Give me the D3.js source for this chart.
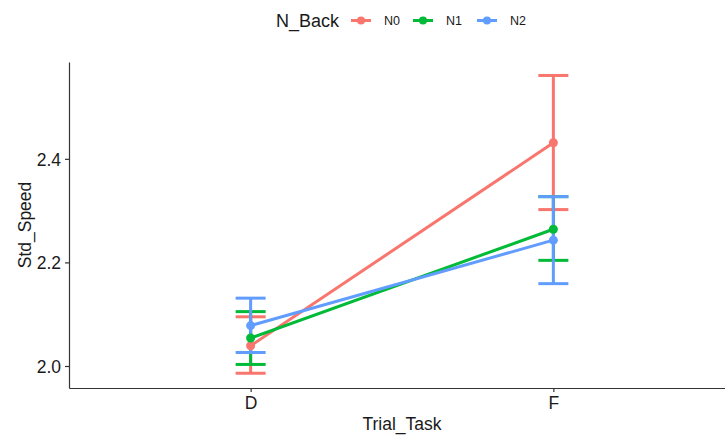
<!DOCTYPE html>
<meta charset="utf-8">
<body style="margin:0;background:#fff">
<div id="chart"></div>
<script src="https://d3js.org/d3.v7.min.js"></script>
<script>
var tasks = ["D", "F"];
var groups = ["N0", "N1", "N2"];
var colors = ["#F8766D", "#00BA38", "#619CFF"];
// mean, lower, upper per group, by task
var means = {N0: [2.039, 2.431], N1: [2.054, 2.264], N2: [2.078, 2.243]};
var lows = {N0: [1.986, 2.302], N1: [2.003, 2.204], N2: [2.026, 2.159]};
var highs = {N0: [2.095, 2.561], N1: [2.105, 2.327], N2: [2.131, 2.327]};
var yTicks = [2.0, 2.2, 2.4];

var width = 725, height = 437;
var mLeft = 69, mRight = 735, mTop = 62, mBottom = 388;
var font = "Liberation Sans, Arial, sans-serif";

var svg = d3.select("#chart").append("svg")
  .attr("width", width).attr("height", height)
  .style("font-family", font);

var x = d3.scalePoint().domain(tasks).range([mLeft, mRight]).padding(0.6);
var y = d3.scaleLinear().domain([1.9575, 2.587]).range([mBottom, mTop]);
var color = d3.scaleOrdinal().domain(groups).range(colors);

// axes
var yAxis = svg.append("g").attr("transform", "translate(" + mLeft + ",0)")
  .call(d3.axisLeft(y).tickValues(yTicks).tickFormat(d3.format(".1f")).tickSize(4).tickSizeOuter(0));
var xAxis = svg.append("g").attr("transform", "translate(0," + mBottom + ")")
  .call(d3.axisBottom(x).tickSize(4).tickSizeOuter(0));
[xAxis, yAxis].forEach(function(a) {
  a.select(".domain").attr("stroke", "#333").attr("stroke-width", 1.2);
  a.selectAll(".tick line").attr("stroke", "#333").attr("stroke-width", 1.2);
  a.selectAll("text").attr("fill", "#1a1a1a").style("font-size", "17.5px").style("font-family", font);
});
yAxis.selectAll("text").attr("x", -8).attr("dy", "0.36em");
xAxis.selectAll("text").attr("y", 8.5).attr("dy", "0.71em");

svg.append("text").attr("x", 402).attr("y", 430).attr("text-anchor", "middle")
  .style("font-size", "17.5px").attr("fill", "#1a1a1a").text("Trial_Task");
svg.append("text").attr("transform", "translate(31,225) rotate(-90)").attr("text-anchor", "middle")
  .style("font-size", "17.5px").attr("fill", "#1a1a1a").text("Std_Speed");

// error bars
groups.forEach(function(g) {
  var c = color(g);
  var gg = svg.append("g");
  tasks.forEach(function(t, i) {
    var cx = x(t);
    gg.append("line").attr("x1", cx).attr("x2", cx).attr("y1", y(lows[g][i])).attr("y2", y(highs[g][i]))
      .attr("stroke", c).attr("stroke-width", 3);
    [lows[g][i], highs[g][i]].forEach(function(v) {
      gg.append("line").attr("x1", cx - 15).attr("x2", cx + 15).attr("y1", y(v)).attr("y2", y(v))
        .attr("stroke", c).attr("stroke-width", 3);
    });
  });
});
// lines and points
groups.forEach(function(g) {
  var c = color(g);
  var line = d3.line().x(function(d, i) { return x(tasks[i]); }).y(function(d) { return y(d); });
  svg.append("path").attr("d", line(means[g])).attr("fill", "none").attr("stroke", c).attr("stroke-width", 3);
  svg.selectAll(null).data(means[g]).enter().append("circle")
    .attr("cx", function(d, i) { return x(tasks[i]); }).attr("cy", function(d) { return y(d); })
    .attr("r", 4.5).attr("fill", c);
});

// legend
var leg = svg.append("g");
leg.append("text").attr("x", 276).attr("y", 27).style("font-size", "18px").attr("fill", "#1a1a1a").text("N_Back");
var keyX = [351, 413, 477];
groups.forEach(function(g, i) {
  var c = color(g);
  leg.append("line").attr("x1", keyX[i]).attr("x2", keyX[i] + 20).attr("y1", 20.5).attr("y2", 20.5)
    .attr("stroke", c).attr("stroke-width", 3);
  leg.append("circle").attr("cx", keyX[i] + 10).attr("cy", 20.5).attr("r", 4).attr("fill", c);
  leg.append("text").attr("x", keyX[i] + 33).attr("y", 25).style("font-size", "12.5px").attr("fill", "#1a1a1a").text(g);
});
</script>
</body>
